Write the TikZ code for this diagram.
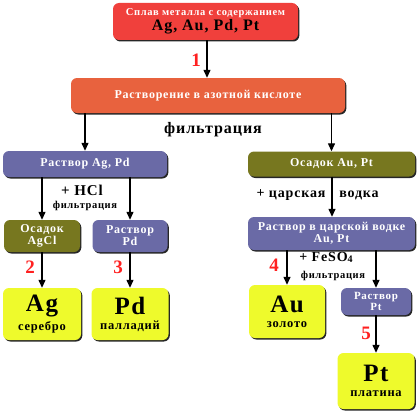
\documentclass[tikz,border=0pt]{standalone}
\usepackage{fontspec}
\setmainfont{Liberation Serif}[LetterSpace=6]
\usetikzlibrary{shadows,arrows.meta}
\definecolor{cred}{HTML}{F0403C}
\definecolor{corange}{HTML}{E8623E}
\definecolor{cblue}{HTML}{6A6AA6}
\definecolor{colive}{HTML}{77771F}
\definecolor{cyellow}{HTML}{EEFA2C}
\definecolor{cnum}{HTML}{FF2020}
\newcommand{\fs}[1]{\fontsize{#1}{#1}\selectfont}
\tikzset{
  box/.style={rectangle, rounded corners=6pt, inner sep=0pt, align=center, font=\bfseries,
    drop shadow={shadow xshift=1.3pt, shadow yshift=-1.5pt, fill=black!85, opacity=1}},
  redbox/.style={box, fill=cred},
  orangebox/.style={box, fill=corange, text=white},
  bluebox/.style={box, fill=cblue, text=white},
  olivebox/.style={box, fill=colive, text=white},
  yellowbox/.style={box, fill=cyellow, text=black},
  arr/.style={draw=black, line width=1.3pt, -{Triangle[length=8pt,width=7pt]}},
  num/.style={text=cnum, font=\bfseries\fs{19}},
  lbl/.style={font=\bfseries, text=black, inner sep=0pt},
}
\begin{document}
\begin{tikzpicture}[x=1pt,y=-1pt]
\useasboundingbox (0,0) rectangle (417,412);
% boxes
\node[redbox, minimum width=185pt, minimum height=37pt] (alloy) at (205.5,21.5)
  {{\color{white}\fs{10.5}Сплав металла с содержанием}\\[1pt]{\fs{16}Ag, Au, Pd, Pt}};
\node[orangebox, minimum width=274pt, minimum height=35pt, font=\bfseries\fs{12}] (nitric) at (208,95.5)
  {Растворение в азотной кислоте};
\node[lbl, font=\bfseries\fs{16}] (filt) at (213,130) {фильтрация};
\node[bluebox, minimum width=164pt, minimum height=26pt, font=\bfseries\fs{12}] (solAgPd) at (85,164)
  {Раствор Ag, Pd};
\node[olivebox, minimum width=167pt, minimum height=25pt, font=\bfseries\fs{12}] (osAuPt) at (331.5,164)
  {Осадок Au, Pt};
\node[olivebox, minimum width=76pt, minimum height=32pt, font=\bfseries\fs{12}] (agcl) at (42,236)
  {Осадок\\AgCl};
\node[bluebox, minimum width=75pt, minimum height=32pt, font=\bfseries\fs{12}] (solPd) at (130,236)
  {Раствор\\Pd};
\node[yellowbox, minimum width=78pt, minimum height=52pt] (ag) at (42,314)
  {{\fs{25}Ag}\\[3pt]{\fs{12.5}серебро}};
\node[yellowbox, minimum width=77pt, minimum height=52pt] (pd) at (130,314)
  {{\fs{25}Pd}\\[3pt]{\fs{12.5}палладий}};
\node[bluebox, minimum width=167pt, minimum height=33pt, font=\bfseries\fs{12}] (aqua) at (331.5,233.5)
  {Раствор в царской водке\\Au, Pt};
\node[yellowbox, minimum width=76pt, minimum height=53pt] (au) at (287,311.5)
  {{\fs{25}Au}\\[3pt]{\fs{12.5}золото}};
\node[bluebox, minimum width=70pt, minimum height=27pt, font=\bfseries\fs{11}] (solPt) at (376,301.5)
  {Раствор\\Pt};
\node[yellowbox, minimum width=77pt, minimum height=56pt] (pt) at (376,381)
  {{\fs{25}Pt}\\[3pt]{\fs{12.5}платина}};
% arrows
\draw[arr] (alloy.south -| 207,0) -- (nitric.north -| 207,0);
\draw[arr] (nitric.south -| solAgPd) -- (solAgPd.north);
\draw[arr] (nitric.south -| osAuPt) -- (osAuPt.north);
\draw[arr] (solAgPd.south -| agcl) -- (agcl.north);
\draw[arr] (solAgPd.south -| solPd) -- (solPd.north);
\draw[arr] (agcl.south) -- (ag.north);
\draw[arr] (solPd.south) -- (pd.north);
\draw[arr] (osAuPt.south -| 332,0) -- (aqua.north -| 332,0);
\draw[arr] (aqua.south -| au) -- (au.north);
\draw[arr] (aqua.south -| solPt) -- (solPt.north);
\draw[arr] (solPt.south) -- (pt.north);
% labels
\node[num] (n1) at (196,60) {1};
\node[num] (n2) at (30,267) {2};
\node[num] (n3) at (118,267) {3};
\node[num] (n4) at (274,265) {4};
\node[num] (n5) at (366,333) {5};
\node[lbl, font=\bfseries\fs{15}] (hcl) at (82,190) {+ HCl};
\node[lbl, font=\bfseries\fs{10.5}] (filt1) at (85,206) {фильтрация};
\node[lbl, font=\bfseries\fs{14}] (tsar) at (291,195) {+ царская};
\node[lbl, font=\bfseries\fs{14}] (vodka) at (359,195) {водка};
\node[lbl, font=\bfseries\fs{14}] (feso) at (326,257) {+ FeSO\raisebox{-1pt}{\fs{10}4}};
\node[lbl, font=\bfseries\fs{10.5}] (filt2) at (333,276) {фильтрация};
\end{tikzpicture}
\end{document}
